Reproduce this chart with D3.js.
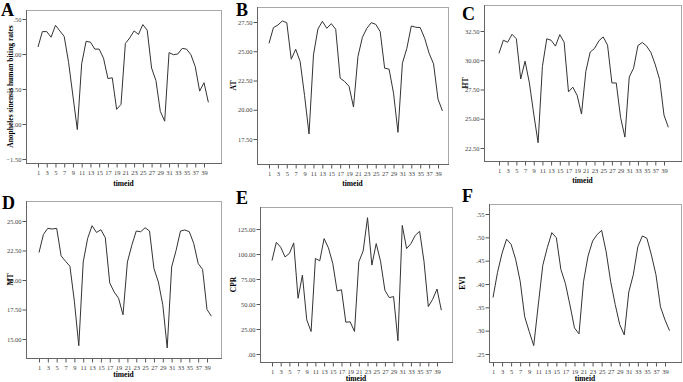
<!DOCTYPE html>
<html>
<head>
<meta charset="utf-8">
<script src="https://cdn.jsdelivr.net/npm/d3@7"></script>
<style>
    body { margin: 0; background: #fff; }
    svg { display: block; }
    text { font-family: "Liberation Serif", "Times New Roman", serif; }
</style>
</head>
<body>
<svg id="chart" width="683" height="382"></svg>
<script>
// timeid categories
var timeid = [1, 2, 3, 4, 5, 6, 7, 8, 9, 10, 11, 12, 13, 14, 15, 16, 17, 18, 19, 20,
    21, 22, 23, 24, 25, 26, 27, 28, 29, 30, 31, 32, 33, 34, 35, 36, 37, 38, 39, 40];
var xTickValues = [1, 3, 5, 7, 9, 11, 13, 15, 17, 19, 21, 23, 25, 27, 29, 31, 33, 35, 37, 39];

// series
var hbr = [0.10, 0.32, 0.32, 0.24, 0.41, 0.33, 0.25, -0.12, -0.60, -1.08,
    -0.14, 0.18, 0.17, 0.07, 0.07, -0.06, -0.35, -0.34, -0.79, -0.72,
    0.15, 0.23, 0.33, 0.28, 0.42, 0.34, -0.20, -0.38, -0.82, -0.96,
    0.02, -0.01, 0.00, 0.08, 0.07, -0.01, -0.18, -0.53, -0.41, -0.69];
var at = [25.68, 27.02, 27.24, 27.59, 27.44, 24.32, 25.17, 24.12, 21.20, 17.93,
    24.69, 26.90, 27.56, 26.96, 27.36, 26.88, 22.70, 22.42, 22.00, 20.23,
    24.55, 26.19, 26.96, 27.44, 27.30, 26.68, 23.55, 23.47, 21.42, 18.07,
    23.98, 25.26, 27.16, 27.05, 27.02, 26.11, 24.83, 23.92, 20.91, 19.90];
var ht = [30.59, 31.71, 31.54, 32.22, 31.83, 28.40, 29.92, 28.06, 25.40, 22.95,
    29.47, 31.83, 31.71, 31.21, 32.19, 31.54, 27.30, 27.70, 27.00, 25.40,
    29.04, 30.70, 31.01, 31.66, 31.99, 31.29, 28.06, 28.06, 25.11, 23.43,
    28.57, 29.33, 31.26, 31.52, 31.21, 30.65, 29.61, 28.34, 25.31, 24.27];
var mt = [22.33, 23.86, 24.38, 24.32, 24.38, 22.05, 21.59, 21.16, 18.20, 14.43,
    21.53, 23.52, 24.60, 24.03, 24.26, 23.58, 19.75, 18.98, 18.45, 17.05,
    21.53, 22.95, 24.15, 24.09, 24.43, 24.15, 20.97, 19.83, 17.90, 14.24,
    21.10, 22.50, 24.15, 24.24, 24.09, 23.10, 21.40, 20.90, 17.50, 16.93];
var cpr = [93.5, 111.7, 106.8, 97.1, 100.5, 111.1, 55.7, 78.9, 34.2, 22.5,
    95.5, 93.2, 115.4, 106.1, 90.5, 63.0, 64.3, 31.8, 32.2, 22.5,
    92.2, 103.1, 136.3, 88.9, 110.4, 92.8, 63.7, 56.4, 57.4, 13.3,
    128.6, 105.4, 110.4, 118.7, 122.7, 92.8, 47.4, 54.7, 65.0, 43.8];
var evi = [0.371, 0.425, 0.466, 0.496, 0.485, 0.453, 0.406, 0.330, 0.298, 0.268,
    0.355, 0.440, 0.478, 0.510, 0.499, 0.431, 0.401, 0.355, 0.306, 0.293,
    0.405, 0.460, 0.492, 0.506, 0.515, 0.469, 0.405, 0.356, 0.313, 0.291,
    0.383, 0.420, 0.480, 0.503, 0.498, 0.462, 0.420, 0.351, 0.323, 0.300];

// y tick values
var yTicksA = [-1.5, -1.0, -0.5, 0.0, 0.5];
var yTicksB = [17.5, 20.0, 22.5, 25.0, 27.5];
var yTicksC = [22.5, 25.0, 27.5, 30.0, 32.5];
var yTicksD = [15.0, 17.5, 20.0, 22.5, 25.0];
var yTicksE = [0, 25, 50, 75, 100, 125];
var yTicksF = [0.25, 0.30, 0.35, 0.40, 0.45, 0.50, 0.55];

var panelLetters = ["A", "B", "C", "D", "E", "F"];
var yTitles = ["Anopheles sinensis human biting rates", "AT", "HT", "MT", "CPR", "EVI"];

// layout: frame box, pixel of tick 1 / tick 39, pixel of lowest / highest y tick
var panels = [
    { data: hbr, ticks: yTicksA, left: 26, right: 221, top: 10, bottom: 163, x1: 38, x39: 204, yLo: 159, yHi: 19,
      letter: [1, 16], titleX: 10, timeY: 186 },
    { data: at, ticks: yTicksB, left: 257, right: 448, top: 7, bottom: 164, x1: 269, x39: 438, yLo: 139, yHi: 22,
      letter: [236, 16], titleX: 233, timeY: 186 },
    { data: ht, ticks: yTicksC, left: 484, right: 681, top: 5, bottom: 161, x1: 499, x39: 664, yLo: 148, yHi: 31,
      letter: [462, 20], titleX: 465, timeY: 183 },
    { data: mt, ticks: yTicksD, left: 26, right: 221, top: 201, bottom: 358, x1: 39, x39: 207, yLo: 339, yHi: 221,
      letter: [2, 209], titleX: 10, timeY: 377 },
    { data: cpr, ticks: yTicksE, left: 260, right: 452, top: 207, bottom: 362, x1: 272, x39: 437, yLo: 354, yHi: 229,
      letter: [236, 204], titleX: 233, timeY: 381 },
    { data: evi, ticks: yTicksF, left: 489, right: 681, top: 204, bottom: 362, x1: 493, x39: 665, yLo: 354, yHi: 214,
      letter: [462, 202], titleX: 462, timeY: 381 }
];

var svg = d3.select("#chart");

// SPSS style numbers: .50, -1.00, 25.00
function SpssFormat(v) {
    return d3.format(".2f")(v).replace(/^(-?)0\./, "$1.");
}

function DrawPanel(p, i) {
    var g = svg.append("g");

    var x = d3.scaleLinear()
        .domain([1, 39])
        .range([p.x1, p.x39]);

    var y = d3.scaleLinear()
        .domain([p.ticks[0], p.ticks[p.ticks.length - 1]])
        .range([p.yLo, p.yHi]);

    // Frame
    g.append("rect")
        .attr("x", p.left + 0.5)
        .attr("y", p.top + 0.5)
        .attr("width", p.right - p.left)
        .attr("height", p.bottom - p.top)
        .attr("fill", "none")
        .attr("stroke", "#a8a8a8");

    // Y axis
    var gy = g.append("g")
        .attr("transform", "translate(" + (p.left + 0.5) + ",0)")
        .call(d3.axisLeft(y).tickValues(p.ticks).tickFormat(SpssFormat).tickSize(4).tickPadding(1));

    // X axis
    var gx = g.append("g")
        .attr("transform", "translate(0," + (p.bottom + 0.5) + ")")
        .call(d3.axisBottom(x).tickValues(xTickValues).tickFormat(d3.format("d")).tickSize(4).tickPadding(3));

    gy.select(".domain").remove();
    gx.select(".domain").remove();
    g.selectAll(".tick line").attr("stroke", "#555");
    g.selectAll(".tick text")
        .attr("fill", "#444")
        .style("font-size", "6.5px");

    // axis lines
    g.append("line")
        .attr("x1", p.left + 0.5).attr("x2", p.left + 0.5)
        .attr("y1", p.top).attr("y2", p.bottom + 1)
        .attr("stroke", "#666");
    g.append("line")
        .attr("x1", p.left).attr("x2", p.right + 1)
        .attr("y1", p.bottom + 0.5).attr("y2", p.bottom + 0.5)
        .attr("stroke", "#666");

    // Series line
    var line = d3.line()
        .x(function (d, k) { return x(timeid[k]); })
        .y(function (d) { return y(d); });

    g.append("path")
        .datum(p.data)
        .attr("d", line)
        .attr("fill", "none")
        .attr("stroke", "#333")
        .attr("stroke-width", 1);

    // Titles
    g.append("text")
        .attr("x", (p.left + p.right) / 2)
        .attr("y", p.timeY)
        .attr("text-anchor", "middle")
        .style("font-size", "7.5px")
        .style("font-weight", "bold")
        .text("timeid");

    g.append("text")
        .attr("transform", "translate(" + p.titleX + "," + ((p.top + p.bottom) / 2) + ") rotate(-90)")
        .attr("text-anchor", "middle")
        .attr("dy", "0.35em")
        .style("font-size", "7.5px")
        .style("font-weight", "bold")
        .text(yTitles[i]);

    g.append("text")
        .attr("x", p.letter[0])
        .attr("y", p.letter[1])
        .style("font-size", "18px")
        .style("font-weight", "bold")
        .text(panelLetters[i]);
}

panels.forEach(DrawPanel);
</script>
</body>
</html>
